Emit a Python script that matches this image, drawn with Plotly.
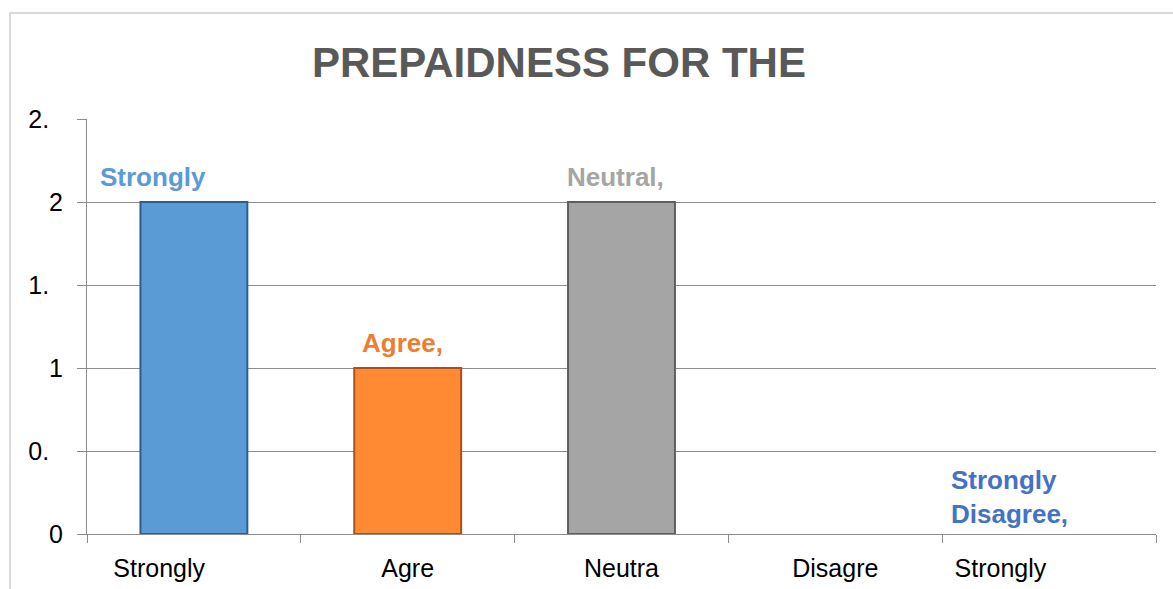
"""
Bar chart of preparedness responses, styled after the spreadsheet export.
"""

import plotly.graph_objects as go

# Data
categories = ["Strongly Agree", "Agree", "Neutral", "Disagree", "Strongly Disagree"]
counts = [2, 1, 2, 0, 0]
# Category labels as they appear (clipped) under the axis
tick_labels = ["Strongly", "Agre", "Neutra", "Disagre", "Strongly"]
# Data labels shown above the bars (clipped as in the reference)
bar_labels = ["Strongly", "Agree,", "Neutral,", "", "Strongly<br>Disagree,"]
y_ticks = [0, 0.5, 1, 1.5, 2, 2.5]
y_tick_labels = ["0", "0.", "1", "1.", "2", "2."]

bar_colors = ["#5B9BD5", "#FF8A33", "#A5A5A5", "#A5A5A5", "#4472C4"]
edge_colors = ["#2E5E8C", "#A8511A", "#5E5E5E", "#5E5E5E", "#2F528F"]
label_colors = ["#5B9BD5", "#ED7D31", "#A5A5A5", "#A5A5A5", "#4472C4"]
label_xshift = [-41, -5, -6, 0, -40]

FONT = "Arial, Liberation Sans, sans-serif"
FIG_SPACE = "\u2007"

fig = go.Figure()

fig.add_trace(go.Bar(
    x=categories,
    y=counts,
    width=0.5,
    marker=dict(
        color=bar_colors,
        # no outline on empty bars so nothing shows at the baseline
        line=dict(color=edge_colors, width=[2 if v > 0 else 0 for v in counts]),
    ),
    hoverinfo="x+y",
))

# Data labels sitting just above each bar
for cat, val, txt, col, dx in zip(categories, counts, bar_labels, label_colors, label_xshift):
    if not txt:
        continue
    fig.add_annotation(
        x=cat, y=val, text=txt, showarrow=False,
        xanchor="center", yanchor="bottom", align="left",
        xshift=dx, yshift=3 if "<br>" in txt else 8,
        font=dict(family=FONT, size=26, color=col, weight="bold"),
    )

# Pad the clipped labels so they sit where the reference puts them
x_text = [tick_labels[0] + FIG_SPACE * 5] + tick_labels[1:4] + [tick_labels[4] + FIG_SPACE * 7]
y_text = [t + FIG_SPACE if t.endswith(".") else t for t in y_tick_labels]

fig.update_layout(
    width=1173,
    height=589,
    margin=dict(l=87, r=17, t=119, b=55),
    paper_bgcolor="white",
    plot_bgcolor="white",
    showlegend=False,
    title=dict(
        text="PREPAIDNESS FOR THE",
        x=0.4415, xref="paper", xanchor="center",
        y=1 - 62 / 589, yref="container", yanchor="middle",
        font=dict(family=FONT, size=42, color="#595959", weight="bold"),
    ),
    xaxis=dict(
        categoryorder="array",
        categoryarray=categories,
        tickmode="array",
        tickvals=categories,
        ticktext=x_text,
        tickson="boundaries",
        ticks="outside",
        ticklen=8,
        tickcolor="#8C8C8C",
        showgrid=False,
        showline=True,
        linecolor="#8C8C8C",
        linewidth=1,
        ticklabelstandoff=12,
        tickfont=dict(family=FONT, size=25, color="black"),
        range=[-0.5, 4.5],
        automargin=False,
    ),
    yaxis=dict(
        range=[0, 2.5],
        tickmode="array",
        tickvals=y_ticks,
        ticktext=y_text,
        ticks="outside",
        ticklen=9,
        tickcolor="#8C8C8C",
        showgrid=True,
        gridcolor="#8C8C8C",
        gridwidth=1,
        showline=True,
        linecolor="#8C8C8C",
        zeroline=False,
        ticklabelstandoff=9,
        tickfont=dict(family=FONT, size=25, color="black"),
        automargin=False,
    ),
    shapes=[
        # light frame around the chart area
        dict(type="rect", xref="paper", yref="paper",
             x0=-0.072, x1=1.1, y0=-0.3, y1=1.2554,
             line=dict(color="#D9D9D9", width=2), fillcolor="rgba(0,0,0,0)",
             layer="below"),
    ],
)

# drop the default page margin so the figure sits at the window's top-left
fig.write_html(
    "out.html",
    config={"displayModeBar": False},
    post_script="document.body.style.margin='0';",
)
